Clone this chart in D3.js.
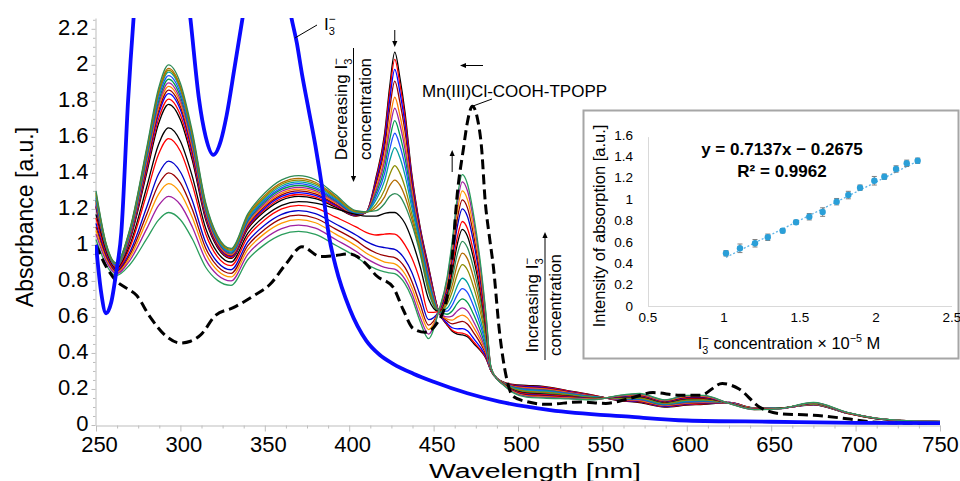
<!DOCTYPE html>
<html>
<head>
<meta charset="utf-8">
<script src="https://cdn.jsdelivr.net/npm/d3@7"></script>
<style>
  html, body { margin: 0; padding: 0; background: #fff; }
  svg { display: block; font-family: "Liberation Sans", Arial, Helvetica, sans-serif; }
</style>
</head>
<body>
<svg id="chart" width="960" height="481"></svg>
<script>
// ---------- titration spectra: one row per wavelength, one column per spectrum ----------
const wavelengths = [250,256,262,270,280,287,293,300,307,315,322,330,340,350,360,370,380,392,404,410,416,421,424,427,430,433,437,442,447,453,458,461,464,467,470,474,478,481,484,488,491,497,505,515,530,545,560,572,587,600,610,625,640,655,675,695,712,730,750];

const absorbance = [
  [1.21,1.215,1.22,1.23,1.24,1.245,1.25,1.26,1.27,1.28,1.29,1.30,1.17,1.15,1.12,1.10,1.08,1.06,1.03],
  [0.97,0.972,0.975,0.98,0.983,0.987,0.99,0.994,0.997,1.0,1.004,1.008,0.96,0.95,0.94,0.93,0.92,0.91,0.89],
  [0.87,0.872,0.875,0.878,0.88,0.883,0.886,0.889,0.892,0.895,0.898,0.90,0.865,0.86,0.855,0.85,0.845,0.84,0.83],
  [1.025,1.031,1.039,1.045,1.05,1.056,1.062,1.068,1.074,1.078,1.082,1.087,0.998,0.984,0.959,0.944,0.929,0.913,0.89],
  [1.398,1.416,1.435,1.448,1.46,1.473,1.486,1.499,1.511,1.519,1.526,1.538,1.32,1.283,1.209,1.169,1.132,1.089,1.033],
  [1.671,1.697,1.724,1.742,1.76,1.778,1.796,1.814,1.832,1.841,1.85,1.868,1.556,1.502,1.392,1.334,1.281,1.218,1.138],
  [1.78,1.81,1.84,1.86,1.88,1.90,1.92,1.94,1.96,1.97,1.98,2.00,1.65,1.59,1.465,1.40,1.34,1.27,1.18],
  [1.695,1.722,1.75,1.768,1.787,1.805,1.824,1.842,1.861,1.87,1.88,1.898,1.576,1.52,1.405,1.344,1.288,1.223,1.14],
  [1.472,1.493,1.514,1.529,1.543,1.558,1.573,1.587,1.602,1.61,1.618,1.633,1.382,1.336,1.248,1.199,1.154,1.101,1.034],
  [1.139,1.15,1.161,1.17,1.179,1.188,1.196,1.205,1.214,1.22,1.226,1.235,1.091,1.061,1.013,0.982,0.952,0.918,0.876],
  [0.985,0.992,0.998,1.004,1.01,1.017,1.023,1.029,1.035,1.04,1.045,1.051,0.957,0.934,0.904,0.881,0.858,0.833,0.803],
  [0.925,0.93,0.935,0.94,0.945,0.95,0.955,0.96,0.965,0.97,0.975,0.98,0.905,0.885,0.862,0.842,0.822,0.80,0.775],
  [1.091,1.098,1.105,1.113,1.12,1.128,1.135,1.142,1.15,1.157,1.165,1.174,1.066,1.046,1.019,0.997,0.975,0.949,0.919],
  [1.187,1.196,1.205,1.214,1.222,1.231,1.24,1.249,1.258,1.266,1.275,1.288,1.16,1.14,1.111,1.087,1.064,1.036,1.003],
  [1.249,1.259,1.269,1.278,1.288,1.298,1.308,1.317,1.327,1.337,1.346,1.361,1.22,1.20,1.17,1.146,1.121,1.091,1.057],
  [1.27,1.28,1.29,1.30,1.31,1.32,1.33,1.34,1.35,1.36,1.37,1.385,1.24,1.22,1.19,1.165,1.14,1.11,1.075],
  [1.257,1.266,1.275,1.284,1.293,1.302,1.311,1.32,1.33,1.339,1.348,1.362,1.232,1.206,1.174,1.148,1.123,1.093,1.058],
  [1.21,1.215,1.221,1.226,1.233,1.239,1.245,1.25,1.257,1.263,1.269,1.278,1.202,1.154,1.116,1.088,1.06,1.03,0.998],
  [1.16,1.162,1.164,1.166,1.17,1.172,1.175,1.177,1.18,1.184,1.187,1.19,1.17,1.10,1.055,1.025,0.995,0.965,0.935],
  [1.18,1.18,1.18,1.18,1.18,1.181,1.181,1.182,1.182,1.183,1.183,1.184,1.16,1.07,1.02,0.985,0.955,0.925,0.895],
  [1.38,1.37,1.357,1.341,1.32,1.305,1.288,1.271,1.252,1.227,1.208,1.19,1.16,1.055,0.995,0.955,0.925,0.895,0.865],
  [1.62,1.60,1.573,1.54,1.496,1.466,1.431,1.397,1.357,1.307,1.267,1.23,1.175,1.06,0.985,0.94,0.905,0.875,0.85],
  [1.88,1.849,1.806,1.756,1.686,1.639,1.585,1.53,1.468,1.39,1.329,1.27,1.18,1.062,0.98,0.935,0.90,0.87,0.845],
  [2.07,2.03,1.975,1.91,1.82,1.76,1.69,1.62,1.54,1.44,1.36,1.285,1.18,1.06,0.975,0.93,0.895,0.865,0.84],
  [1.93,1.896,1.85,1.795,1.72,1.669,1.611,1.552,1.485,1.40,1.333,1.27,1.16,1.04,0.955,0.91,0.875,0.845,0.82],
  [1.74,1.713,1.677,1.634,1.575,1.535,1.488,1.442,1.389,1.322,1.27,1.22,1.12,1.0,0.92,0.875,0.84,0.81,0.785],
  [1.40,1.386,1.366,1.343,1.311,1.289,1.264,1.24,1.211,1.175,1.147,1.12,1.03,0.93,0.85,0.80,0.765,0.735,0.71],
  [1.10,1.092,1.082,1.069,1.052,1.041,1.027,1.014,0.999,0.98,0.964,0.95,0.88,0.80,0.72,0.67,0.635,0.60,0.575],
  [0.88,0.873,0.863,0.851,0.835,0.825,0.812,0.80,0.786,0.768,0.753,0.74,0.70,0.625,0.585,0.555,0.53,0.505,0.48],
  [0.63,0.63,0.63,0.63,0.63,0.63,0.63,0.63,0.63,0.63,0.63,0.63,0.63,0.63,0.63,0.63,0.63,0.63,0.63],
  [0.555,0.558,0.565,0.577,0.588,0.60,0.615,0.632,0.649,0.671,0.69,0.71,0.729,0.743,0.764,0.778,0.793,0.808,0.82],
  [0.52,0.526,0.54,0.562,0.582,0.605,0.633,0.665,0.697,0.739,0.775,0.812,0.849,0.874,0.914,0.942,0.97,0.998,1.02],
  [0.505,0.513,0.534,0.568,0.599,0.633,0.675,0.723,0.772,0.836,0.89,0.946,1.002,1.04,1.099,1.141,1.184,1.226,1.26],
  [0.50,0.51,0.535,0.575,0.61,0.65,0.70,0.757,0.815,0.89,0.954,1.02,1.086,1.13,1.20,1.25,1.30,1.35,1.39],
  [0.49,0.499,0.523,0.561,0.595,0.634,0.681,0.736,0.791,0.862,0.924,0.986,1.049,1.092,1.159,1.207,1.254,1.302,1.34],
  [0.45,0.458,0.477,0.509,0.537,0.568,0.608,0.652,0.698,0.757,0.807,0.859,0.911,0.946,1.001,1.04,1.079,1.119,1.15],
  [0.41,0.415,0.428,0.449,0.468,0.489,0.516,0.546,0.576,0.616,0.65,0.684,0.719,0.743,0.78,0.806,0.833,0.859,0.88],
  [0.37,0.373,0.38,0.391,0.401,0.412,0.426,0.442,0.459,0.48,0.498,0.516,0.535,0.547,0.567,0.581,0.595,0.609,0.62],
  [0.30,0.30,0.301,0.302,0.302,0.303,0.305,0.306,0.307,0.309,0.31,0.312,0.313,0.314,0.316,0.317,0.318,0.319,0.32],
  [0.255,0.255,0.255,0.255,0.255,0.255,0.254,0.254,0.254,0.254,0.253,0.253,0.253,0.253,0.252,0.252,0.252,0.251,0.25],
  [0.24,0.239,0.238,0.238,0.237,0.236,0.235,0.234,0.233,0.233,0.232,0.231,0.23,0.229,0.228,0.228,0.227,0.226,0.225],
  [0.225,0.223,0.22,0.218,0.215,0.213,0.21,0.208,0.205,0.203,0.20,0.198,0.195,0.193,0.19,0.188,0.185,0.183,0.18],
  [0.22,0.216,0.213,0.209,0.206,0.202,0.198,0.195,0.191,0.187,0.184,0.18,0.177,0.173,0.169,0.166,0.162,0.159,0.155],
  [0.215,0.211,0.208,0.204,0.201,0.197,0.193,0.19,0.186,0.182,0.179,0.175,0.172,0.168,0.164,0.161,0.157,0.154,0.15],
  [0.19,0.188,0.185,0.183,0.18,0.178,0.175,0.173,0.17,0.168,0.165,0.163,0.16,0.158,0.155,0.153,0.15,0.148,0.145],
  [0.165,0.164,0.162,0.161,0.159,0.158,0.157,0.155,0.154,0.152,0.151,0.15,0.148,0.147,0.146,0.144,0.143,0.141,0.14],
  [0.135,0.137,0.138,0.14,0.142,0.143,0.145,0.147,0.148,0.15,0.152,0.153,0.155,0.157,0.158,0.16,0.162,0.163,0.165],
  [0.125,0.128,0.131,0.133,0.136,0.139,0.142,0.144,0.147,0.15,0.153,0.156,0.158,0.161,0.164,0.167,0.169,0.172,0.175],
  [0.10,0.102,0.104,0.107,0.109,0.111,0.113,0.116,0.118,0.12,0.122,0.124,0.127,0.129,0.131,0.133,0.136,0.138,0.14],
  [0.11,0.113,0.116,0.119,0.122,0.125,0.128,0.131,0.134,0.138,0.141,0.144,0.147,0.15,0.153,0.156,0.159,0.162,0.165],
  [0.115,0.118,0.121,0.123,0.126,0.129,0.132,0.134,0.137,0.14,0.143,0.146,0.148,0.151,0.154,0.157,0.159,0.162,0.165],
  [0.125,0.125,0.125,0.124,0.124,0.124,0.123,0.123,0.123,0.122,0.122,0.122,0.122,0.121,0.121,0.121,0.12,0.12,0.12],
  [0.095,0.094,0.094,0.093,0.093,0.092,0.092,0.091,0.091,0.09,0.089,0.089,0.088,0.088,0.087,0.087,0.086,0.086,0.085],
  [0.095,0.095,0.094,0.094,0.094,0.094,0.093,0.093,0.093,0.092,0.092,0.092,0.092,0.091,0.091,0.091,0.091,0.09,0.09],
  [0.112,0.113,0.113,0.114,0.115,0.116,0.116,0.117,0.118,0.118,0.119,0.12,0.121,0.121,0.122,0.123,0.123,0.124,0.125],
  [0.065,0.065,0.066,0.066,0.066,0.066,0.067,0.067,0.067,0.067,0.068,0.068,0.068,0.068,0.069,0.069,0.069,0.07,0.07],
  [0.035,0.035,0.035,0.035,0.036,0.036,0.036,0.036,0.036,0.036,0.037,0.037,0.037,0.037,0.037,0.037,0.038,0.038,0.038],
  [0.022,0.022,0.022,0.022,0.022,0.023,0.023,0.023,0.023,0.023,0.023,0.023,0.023,0.023,0.024,0.024,0.024,0.024,0.024],
  [0.018,0.018,0.018,0.018,0.018,0.019,0.019,0.019,0.019,0.019,0.019,0.019,0.019,0.019,0.02,0.02,0.02,0.02,0.02]
];

const seriesColors = ["#000000","#ff0000","#0000ff","#990000","#ff8000","#a020a0","#00994d","#1f4fff","#00a0a0",
                      "#8c8c00","#b36b00","#2e8b57","#000000","#ff0000","#0000cc","#990000","#ff9900","#a020a0","#2a9d5c"];

// triiodide reference spectrum
const iodideWl  = [250,253,256,259,262,265,269,273,280,288,297,303,306,311,315,319.5,324,327.4,332,337,345,353,360,365,369,372,376,380,384.6,388,392,400.5,410,418,426,438,450,470,489,519,566,600,650,700,750];
const iodideAbs = [1.0,0.74,0.62,0.68,0.85,1.07,1.8,2.35,3.0,3.3,3.0,2.5,2.25,1.81,1.6,1.5,1.58,1.72,1.98,2.27,2.7,2.9,2.65,2.3,2.12,1.95,1.75,1.55,1.28,1.05,0.88,0.64,0.47,0.39,0.34,0.285,0.24,0.176,0.13,0.083,0.046,0.025,0.018,0.012,0.01];

// Mn(III)Cl-COOH-TPOPP reference spectrum
const porphWl  = [250,256,262,268,274,282,292,300,306,312,321,331,343,353,363,372,383,391,400,410,416,426,432,438,445,452,458,461,464,467.6,470,473,476,478.5,480.5,483,485.4,489,493,497,505,517,537,552,566,580,596,608,621,631,643,655,675,695,710,730,750];
const porphAbs = [1.0,0.88,0.80,0.76,0.72,0.60,0.49,0.455,0.465,0.50,0.61,0.65,0.715,0.78,0.90,0.99,0.935,0.94,0.95,0.895,0.83,0.765,0.64,0.535,0.515,0.565,0.71,0.93,1.28,1.53,1.68,1.77,1.70,1.53,1.25,1.05,0.88,0.52,0.27,0.16,0.13,0.115,0.128,0.12,0.147,0.18,0.165,0.165,0.23,0.20,0.10,0.063,0.054,0.035,0.017,0.01,0.008];

const xTicks = [250,300,350,400,450,500,550,600,650,700,750];
const yTicks = [0,0.2,0.4,0.6,0.8,1,1.2,1.4,1.6,1.8,2,2.2];

// calibration inset
const concentration = [1.013,1.105,1.204,1.288,1.386,1.474,1.561,1.649,1.741,1.818,1.895,1.989,2.055,2.132,2.202,2.274];
const intensity     = [0.493,0.54,0.587,0.643,0.704,0.783,0.835,0.879,0.976,1.038,1.107,1.172,1.21,1.282,1.335,1.359];
const intensityErr  = [0.025,0.04,0.035,0.03,0.02,0.02,0.03,0.04,0.03,0.035,0.025,0.04,0.025,0.03,0.03,0.025];
const insetXTicks = [0.5,1,1.5,2,2.5];
const insetYTicks = [0,0.2,0.4,0.6,0.8,1,1.2,1.4,1.6];
const fitSlope = 0.7137, fitIntercept = -0.2675, fitR2 = 0.9962;

// ---------- main chart ----------
const svg = d3.select("#chart");
const FONT = '"Liberation Sans", Arial, Helvetica, sans-serif';
const axisGray = "#bdbdbd";

const x = d3.scaleLinear().domain([250, 750]).range([96, 940]);
const y = d3.scaleLinear().domain([0, 2.26]).range([425, 18]);

svg.append("defs").append("clipPath").attr("id", "plotClip")
  .append("rect").attr("x", 95).attr("y", 18).attr("width", 848).attr("height", 408);

// axes
const xAxis = svg.append("g").attr("transform", "translate(0,425.5)")
  .call(d3.axisBottom(x).tickValues(xTicks).tickSize(6).tickSizeOuter(0).tickPadding(5).tickFormat(d3.format("d")));
const xMinor = svg.append("g").attr("transform", "translate(0,425.5)")
  .call(d3.axisBottom(x).tickValues(d3.range(250, 751, 12.5).filter(v => v % 50 !== 0)).tickSize(3).tickFormat(""));
xMinor.select(".domain").remove();

const yAxis = svg.append("g").attr("transform", "translate(95.5,0)")
  .call(d3.axisLeft(y).tickValues(yTicks).tickSize(4).tickSizeOuter(0).tickPadding(3).tickFormat(d3.format("~g")));
const yMinor = svg.append("g").attr("transform", "translate(95.5,0)")
  .call(d3.axisLeft(y).tickValues(d3.range(0.05, 2.26, 0.05).filter(v => Math.abs(v * 5 - Math.round(v * 5)) > 1e-6)).tickSize(2.5).tickFormat(""));
yMinor.select(".domain").remove();

[xAxis, xMinor, yAxis, yMinor].forEach(g => {
  g.selectAll("path,line").attr("stroke", axisGray).attr("stroke-width", 1);
  g.selectAll("text").attr("fill", "#000").attr("font-family", FONT).attr("font-size", 22);
});
xAxis.selectAll("text").attr("x", d => d === 750 ? 0 : 3);
yAxis.selectAll("text").attr("dy", "0.26em");

svg.append("text").attr("x", 535).attr("y", 478).attr("text-anchor", "middle")
  .attr("font-size", 20).attr("font-family", FONT)
  .attr("textLength", 212).attr("lengthAdjust", "spacingAndGlyphs").text("Wavelength [nm]");
svg.append("text").attr("transform", "translate(33,217) rotate(-90)").attr("text-anchor", "middle")
  .attr("font-size", 23).attr("font-family", FONT).text("Absorbance [a.u.]");

// spectra
const plot = svg.append("g").attr("clip-path", "url(#plotClip)");
const line = d3.line().x(d => x(d[0])).y(d => y(d[1])).curve(d3.curveMonotoneX);

seriesColors.forEach((c, i) => {
  const pts = wavelengths.map((w, k) => [w, absorbance[k][i]]);
  plot.append("path").attr("d", line(pts)).attr("fill", "none")
    .attr("stroke", c).attr("stroke-width", 1.3);
});

plot.append("path").attr("d", line(porphWl.map((w, k) => [w, porphAbs[k]])))
  .attr("fill", "none").attr("stroke", "#000").attr("stroke-width", 3).attr("stroke-dasharray", "10,5");

plot.append("path").attr("d", line(iodideWl.map((w, k) => [w, iodideAbs[k]])))
  .attr("fill", "none").attr("stroke", "#0a0aff").attr("stroke-width", 3.8);

// ---------- annotations ----------
const ann = svg.append("g").attr("font-family", FONT).attr("fill", "#000");

function arrow(x1, y1, x2, y2, len = 6, half = 2.6) {
  const dx = x2 - x1, dy = y2 - y1, L = Math.hypot(dx, dy);
  const ux = dx / L, uy = dy / L;
  const bx = x2 - ux * len, by = y2 - uy * len;
  ann.append("line").attr("x1", x1).attr("y1", y1).attr("x2", bx).attr("y2", by)
    .attr("stroke", "#000").attr("stroke-width", 1);
  ann.append("path").attr("d", `M${x2},${y2}L${bx - uy * half},${by + ux * half}L${bx + uy * half},${by - ux * half}Z`)
    .attr("fill", "#000");
}

// I3- label with stacked sub/superscript
function iodideLabel(t) {
  t.append("tspan").text("I");
  t.append("tspan").attr("font-size", "0.65em").attr("dy", 5).text("3");
  t.append("tspan").attr("font-size", "0.7em").attr("dx", -6).attr("dy", -12).text("\u2212");
  t.append("tspan").attr("dy", 7).text("");
}

const lblI3 = ann.append("text").attr("x", 324).attr("y", 30).attr("font-size", 17);
iodideLabel(lblI3);
ann.append("line").attr("x1", x(368)).attr("y1", y(2.15)).attr("x2", 317).attr("y2", 25)
  .attr("stroke", "#000").attr("stroke-width", 1);

// decreasing band
const dec = ann.append("text").attr("transform", "translate(347,109) rotate(-90)")
  .attr("text-anchor", "middle").attr("font-size", 17);
dec.append("tspan").text("Decreasing ");
iodideLabel(dec);
ann.append("text").attr("transform", "translate(371,109) rotate(-90)")
  .attr("text-anchor", "middle").attr("font-size", 17).text("concentration");
arrow(353.5, 48, 353.5, 182);

// increasing band
const inc = ann.append("text").attr("transform", "translate(538,305) rotate(-90)")
  .attr("text-anchor", "middle").attr("font-size", 17);
inc.append("tspan").text("Increasing ");
iodideLabel(inc);
ann.append("text").attr("transform", "translate(561,305) rotate(-90)")
  .attr("text-anchor", "middle").attr("font-size", 17).text("concentration");
arrow(545, 360, 545, 232);

// peak direction arrows
arrow(x(427), 30, x(427), 47);
arrow(483, 65.5, 460, 65.5);
arrow(x(461), 172, x(461), 150);

// porphyrin label
ann.append("text").attr("x", 422).attr("y", 97).attr("font-size", 17).text("Mn(III)Cl-COOH-TPOPP");
ann.append("line").attr("x1", x(473)).attr("y1", y(1.77)).attr("x2", 492).attr("y2", 99)
  .attr("stroke", "#000").attr("stroke-width", 1);

// ---------- calibration inset ----------
const inset = svg.append("g").attr("font-family", FONT);
inset.append("rect").attr("x", 583.5).attr("y", 110.5).attr("width", 375).attr("height", 248)
  .attr("fill", "#fff").attr("stroke", "#a6a6a6").attr("stroke-width", 2);

const ix = d3.scaleLinear().domain([0.5, 2.5]).range([648, 952]);
const iy = d3.scaleLinear().domain([0, 1.6]).range([306, 135]);

inset.append("line").attr("x1", ix(0.5) + 0.5).attr("x2", ix(0.5) + 0.5).attr("y1", iy(0)).attr("y2", iy(1.58))
  .attr("stroke", "#d9d9d9");
inset.append("line").attr("x1", ix(0.5)).attr("x2", ix(2.5)).attr("y1", iy(0) + 0.5).attr("y2", iy(0) + 0.5)
  .attr("stroke", "#d9d9d9");

inset.selectAll("text.iyt").data(insetYTicks).enter().append("text").attr("class", "iyt")
  .attr("x", 633).attr("y", d => iy(d)).attr("dy", "0.35em").attr("text-anchor", "end")
  .attr("font-size", 13.5).text(d3.format("~g"));
inset.selectAll("text.ixt").data(insetXTicks).enter().append("text").attr("class", "ixt")
  .attr("x", d => ix(d)).attr("y", 322).attr("text-anchor", "middle")
  .attr("font-size", 13.5).text(d3.format("~g"));

inset.append("text").attr("transform", "translate(605,226) rotate(-90)")
  .attr("text-anchor", "middle").attr("font-size", 16.5).text("Intensity of absorption [a.u.]");

const ixTitle = inset.append("text").attr("x", 789).attr("y", 349).attr("text-anchor", "middle").attr("font-size", 16.5);
ixTitle.append("tspan").text("I");
ixTitle.append("tspan").attr("font-size", "0.65em").attr("dy", 5).text("3");
ixTitle.append("tspan").attr("font-size", "0.7em").attr("dx", -6).attr("dy", -12).text("\u2212");
ixTitle.append("tspan").attr("dy", 7).text(" concentration \u00d7 10");
ixTitle.append("tspan").attr("font-size", "0.65em").attr("dy", -7).text("\u22125");
ixTitle.append("tspan").attr("dy", 7).text(" M");

// trend line from the fitted equation
const cMin = d3.min(concentration), cMax = d3.max(concentration);
inset.append("line")
  .attr("x1", ix(cMin)).attr("y1", iy(fitSlope * cMin + fitIntercept))
  .attr("x2", ix(cMax)).attr("y2", iy(fitSlope * cMax + fitIntercept))
  .attr("stroke", "#5fb4e6").attr("stroke-width", 1.3).attr("stroke-dasharray", "2,2");

// error bars and points
const pts = concentration.map((c, i) => ({ c, v: intensity[i], e: intensityErr[i] }));
const eb = inset.append("g").attr("stroke", "#7f7f7f").attr("stroke-width", 1);
pts.forEach(p => {
  eb.append("line").attr("x1", ix(p.c)).attr("x2", ix(p.c)).attr("y1", iy(p.v - p.e)).attr("y2", iy(p.v + p.e));
  eb.append("line").attr("x1", ix(p.c) - 2.5).attr("x2", ix(p.c) + 2.5).attr("y1", iy(p.v - p.e)).attr("y2", iy(p.v - p.e));
  eb.append("line").attr("x1", ix(p.c) - 2.5).attr("x2", ix(p.c) + 2.5).attr("y1", iy(p.v + p.e)).attr("y2", iy(p.v + p.e));
});
inset.selectAll("circle.pt").data(pts).enter().append("circle").attr("class", "pt")
  .attr("cx", d => ix(d.c)).attr("cy", d => iy(d.v)).attr("r", 3.2).attr("fill", "#2a9fd8");

inset.append("text").attr("x", 782).attr("y", 155).attr("text-anchor", "middle")
  .attr("font-size", 17).attr("font-weight", "bold")
  .text(`y = ${fitSlope}x \u2212 ${Math.abs(fitIntercept)}`);
inset.append("text").attr("x", 782).attr("y", 177).attr("text-anchor", "middle")
  .attr("font-size", 17).attr("font-weight", "bold")
  .text(`R\u00b2 = ${fitR2}`);
</script>
</body>
</html>
